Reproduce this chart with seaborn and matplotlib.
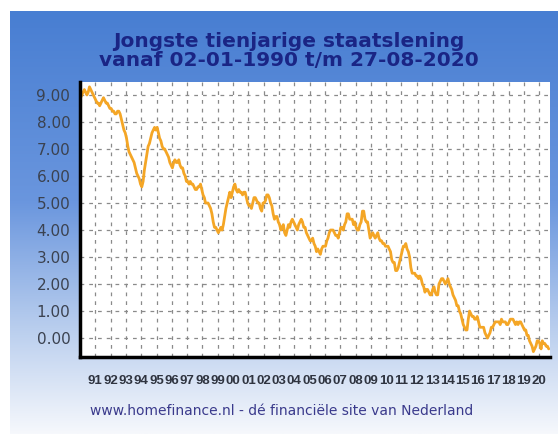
import matplotlib
matplotlib.use("Agg")
import matplotlib.pyplot as plt
import matplotlib.dates as mdates
import numpy as np
import pandas as pd
import seaborn as sns

# monthly 10y yield (%), Jan 1990 .. Aug 2020
y1990 = [8.9, 9.0, 9.1, 9.2, 9.1, 9.0, 9.1, 9.3, 9.2, 9.1, 9.0, 8.9]
y1991 = [8.8, 8.7, 8.7, 8.6, 8.7, 8.8, 8.9, 8.8, 8.7, 8.7, 8.6, 8.5]
y1992 = [8.5, 8.4, 8.4, 8.3, 8.3, 8.4, 8.4, 8.3, 8.1, 7.9, 7.7, 7.6]
y1993 = [7.4, 7.1, 6.9, 6.8, 6.7, 6.6, 6.5, 6.3, 6.1, 6.0, 5.9, 5.7]
y1994 = [5.6, 5.8, 6.2, 6.5, 6.8, 7.1, 7.2, 7.4, 7.6, 7.7, 7.8, 7.7]
y1995 = [7.8, 7.6, 7.4, 7.3, 7.1, 7.0, 7.0, 6.9, 6.8, 6.7, 6.5, 6.4]
y1996 = [6.3, 6.5, 6.6, 6.5, 6.5, 6.6, 6.4, 6.3, 6.3, 6.1, 6.0, 5.8]
y1997 = [5.8, 5.7, 5.8, 5.7, 5.7, 5.6, 5.5, 5.5, 5.6, 5.6, 5.7, 5.5]
y1998 = [5.3, 5.2, 5.0, 5.0, 5.0, 4.9, 4.8, 4.6, 4.3, 4.1, 4.1, 4.0]
y1999 = [3.9, 4.0, 4.1, 4.0, 4.2, 4.5, 4.8, 5.0, 5.2, 5.4, 5.2, 5.4]
y2000 = [5.6, 5.7, 5.5, 5.4, 5.5, 5.4, 5.4, 5.3, 5.4, 5.4, 5.2, 5.0]
y2001 = [4.9, 4.9, 4.8, 5.0, 5.2, 5.2, 5.1, 5.0, 5.0, 4.8, 4.7, 5.0]
y2002 = [5.0, 5.1, 5.3, 5.3, 5.2, 5.0, 4.9, 4.6, 4.4, 4.5, 4.5, 4.3]
y2003 = [4.2, 4.0, 4.1, 4.2, 3.9, 3.8, 4.0, 4.2, 4.1, 4.3, 4.4, 4.3]
y2004 = [4.2, 4.1, 4.0, 4.2, 4.3, 4.4, 4.3, 4.1, 4.1, 3.9, 3.8, 3.7]
y2005 = [3.6, 3.6, 3.7, 3.5, 3.4, 3.2, 3.3, 3.2, 3.1, 3.3, 3.4, 3.4]
y2006 = [3.4, 3.6, 3.7, 3.9, 4.0, 4.0, 4.0, 3.9, 3.8, 3.8, 3.7, 3.9]
y2007 = [4.1, 4.1, 4.0, 4.2, 4.3, 4.6, 4.6, 4.4, 4.4, 4.4, 4.2, 4.3]
y2008 = [4.1, 4.0, 4.0, 4.2, 4.3, 4.7, 4.7, 4.4, 4.3, 4.3, 4.0, 3.7]
y2009 = [3.8, 3.9, 3.8, 3.7, 3.8, 3.9, 3.7, 3.6, 3.6, 3.5, 3.5, 3.4]
y2010 = [3.4, 3.4, 3.3, 3.2, 2.9, 2.8, 2.8, 2.5, 2.5, 2.6, 2.8, 3.0]
y2011 = [3.2, 3.4, 3.4, 3.5, 3.3, 3.2, 3.0, 2.6, 2.4, 2.4, 2.4, 2.3]
y2012 = [2.3, 2.2, 2.3, 2.2, 2.0, 1.9, 1.7, 1.8, 1.8, 1.7, 1.6, 1.6]
y2013 = [1.8, 1.9, 1.7, 1.6, 1.6, 2.0, 2.1, 2.2, 2.2, 2.1, 2.0, 2.1]
y2014 = [2.2, 2.0, 1.9, 1.8, 1.6, 1.5, 1.4, 1.2, 1.2, 1.0, 0.9, 0.7]
y2015 = [0.5, 0.4, 0.3, 0.3, 0.7, 1.0, 0.9, 0.8, 0.8, 0.7, 0.7, 0.8]
y2016 = [0.6, 0.4, 0.4, 0.4, 0.4, 0.2, 0.1, 0.0, 0.1, 0.2, 0.4, 0.4]
y2017 = [0.5, 0.6, 0.6, 0.6, 0.6, 0.5, 0.7, 0.6, 0.6, 0.6, 0.5, 0.5]
y2018 = [0.6, 0.7, 0.7, 0.7, 0.6, 0.5, 0.6, 0.5, 0.6, 0.6, 0.5, 0.4]
y2019 = [0.3, 0.3, 0.1, 0.1, -0.1, -0.2, -0.3, -0.5, -0.4, -0.3, -0.1, -0.1]
y2020 = [-0.2, -0.4, -0.1, -0.2, -0.2, -0.3, -0.3, -0.4]

yields = (y1990 + y1991 + y1992 + y1993 + y1994 + y1995 + y1996 + y1997 +
          y1998 + y1999 + y2000 + y2001 + y2002 + y2003 + y2004 + y2005 +
          y2006 + y2007 + y2008 + y2009 + y2010 + y2011 + y2012 + y2013 +
          y2014 + y2015 + y2016 + y2017 + y2018 + y2019 + y2020)
dates = pd.date_range("1990-01-01", periods=len(yields), freq="MS") + pd.Timedelta(days=14)
df = pd.DataFrame({"datum": dates, "rente": yields})

title = "Jongste tienjarige staatslening\nvanaf 02-01-1990 t/m 27-08-2020"
footer = "www.homefinance.nl - dé financiële site van Nederland"
ytick_vals = [0, 1, 2, 3, 4, 5, 6, 7, 8, 9]
year_ticks = pd.date_range("1991-01-01", "2020-01-01", freq="YS")
year_labels = [d.strftime("%y") for d in year_ticks]

sns.set_style("white")
plt.rcParams['font.family'] = ['DejaVu Sans']

fig = plt.figure(figsize=(5.58, 4.34), dpi=100)

# blue panel with fade to white at the bottom
bg = fig.add_axes([0, 0, 1, 1], zorder=-10)
bg.set_axis_off()
stops_y = [0.0, 0.45, 0.75, 1.0]
stops_c = [(72, 126, 210), (106, 150, 222), (185, 206, 238), (246, 248, 252)]
t = np.linspace(0, 1, 300)
grad = np.stack([np.interp(t, stops_y, [c[k] for c in stops_c]) for k in range(3)], axis=-1) / 255
img = np.repeat(grad[:, None, :], 2, axis=1)
bg.imshow(img, extent=[10 / 558, 1, 0, 1 - 11 / 434], aspect="auto")
bg.set_xlim(0, 1)
bg.set_ylim(0, 1)

ax = fig.add_axes([80 / 558, 1 - 357 / 434, 470 / 558, 275 / 434])
ax.set_facecolor("white")
sns.lineplot(data=df, x="datum", y="rente", ax=ax, color="#f4a626", linewidth=2.0)

ax.set_xlim(pd.Timestamp("1990-01-01"), pd.Timestamp("2020-09-15"))
ax.set_ylim(-0.7, 9.48)
ax.set_yticks(ytick_vals)
ax.set_yticklabels([f"{v:.2f}" for v in ytick_vals], fontsize=11, color="#3b4250")
ax.set_xticks(year_ticks)
ax.set_xticklabels(year_labels, fontsize=9.5, family=['Liberation Sans', 'DejaVu Sans'],
                   fontweight="bold")
ax.xaxis.set_minor_locator(mdates.MonthLocator(bymonth=[4, 7, 10]))
ax.tick_params(axis="x", which="major", length=4, width=1, direction="out",
               color="#555555", pad=9, labelcolor="#2f3440")
ax.tick_params(axis="x", which="minor", length=2.5, width=0.8, direction="out", color="#777777")
ax.tick_params(axis="y", length=0, pad=7)
ax.set_xlabel("")
ax.set_ylabel("")
ax.grid(True, which="major", color="#8a8a8a", linestyle=(0, (3, 4)), linewidth=0.9)
ax.set_axisbelow(True)
for side in ["top", "right"]:
    ax.spines[side].set_visible(False)
for side in ["left", "bottom"]:
    ax.spines[side].set_color("black")
    ax.spines[side].set_linewidth(2.5)

fig.text(289 / 558, 1 - 51 / 434, title, ha="center", va="center", fontsize=14.5,
         fontweight="bold", color="#1a2585", linespacing=0.95)
fig.text(90 / 558, 1 - 411 / 434, footer, ha="left", va="center", fontsize=10,
         color="#3a3a8c")

fig.savefig("out.png", dpi=100)
